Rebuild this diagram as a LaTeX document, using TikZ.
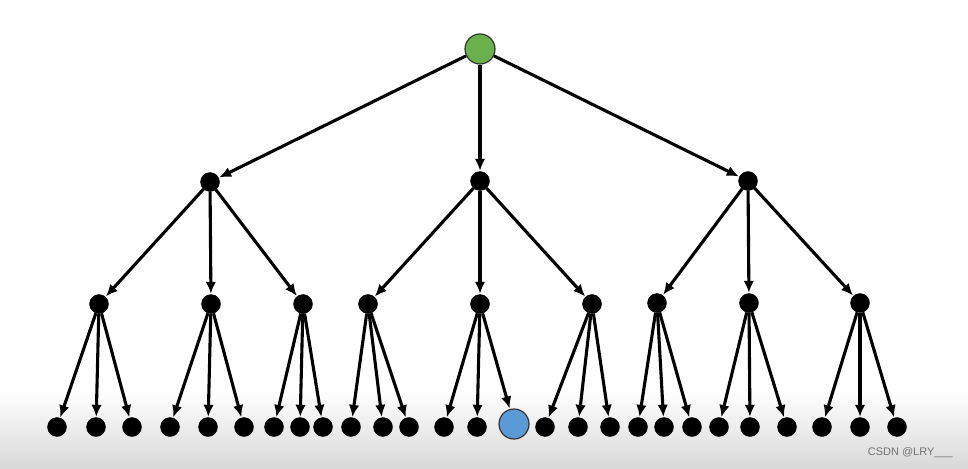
\documentclass[tikz,border=0pt]{standalone}
\usepackage{fontspec}
\setmainfont{Liberation Sans}
\usetikzlibrary{arrows.meta}
\definecolor{rootgreen}{HTML}{6AB04C}
\definecolor{goalblue}{HTML}{5B9BD5}
\begin{document}
\begin{tikzpicture}[x=1pt,y=-1pt,
  dot/.style={circle,fill=black,draw=black,inner sep=0pt,minimum size=19pt},
  big/.style={circle,draw=black!80,line width=1.2pt,inner sep=0pt,minimum size=30pt},
  edge/.style={line width=3.1pt,-{Latex[length=12pt,width=10.5pt]},shorten >=0.5pt}]
\useasboundingbox (0,0) rectangle (968,468);
\shade[top color=white,bottom color=black!15] (0,390) rectangle (968,468);
% root
\node[big,fill=rootgreen] (r) at (480,49) {};
% level 1
\node[dot] (a) at (210,182) {};
\node[dot] (b) at (480,181) {};
\node[dot] (c) at (748,181) {};
\foreach \n in {a,b,c} \draw[edge] (r) -- (\n);
% level 2
\node[dot] (a1) at (99,304) {};
\node[dot] (a2) at (211,304) {};
\node[dot] (a3) at (303,304) {};
\node[dot] (b1) at (368,304) {};
\node[dot] (b2) at (480,304) {};
\node[dot] (b3) at (592,304) {};
\node[dot] (c1) at (657,303) {};
\node[dot] (c2) at (749,303) {};
\node[dot] (c3) at (860,303) {};
\foreach \p in {a,b,c}{\foreach \i in {1,2,3}{\draw[edge] (\p) -- (\p\i);}}
% leaves
\foreach \n/\x in {a11/57,a12/96,a13/132,a21/170,a22/208,a23/244,a31/274,a32/300,a33/323,
  b11/351,b12/383,b13/409,b21/444,b22/477,b31/545,b32/578,b33/610,
  c11/638,c12/664,c13/692,c21/719,c22/750,c23/787,c31/822,c32/860,c33/897}
  {\node[dot] (\n) at (\x,427) {};}
\node[big,fill=goalblue] (b23) at (514,424) {};
\foreach \p in {a1,a2,a3,b1,b2,b3,c1,c2,c3}{\foreach \i in {1,2,3}{\draw[edge] (\p) -- (\p\i);}}
\node[text=black!55,font=\fontsize{11}{12}\selectfont,anchor=east,inner sep=0pt] (wm) at (953,453) {CSDN @LRY\_\_\_};
\end{tikzpicture}
\end{document}
